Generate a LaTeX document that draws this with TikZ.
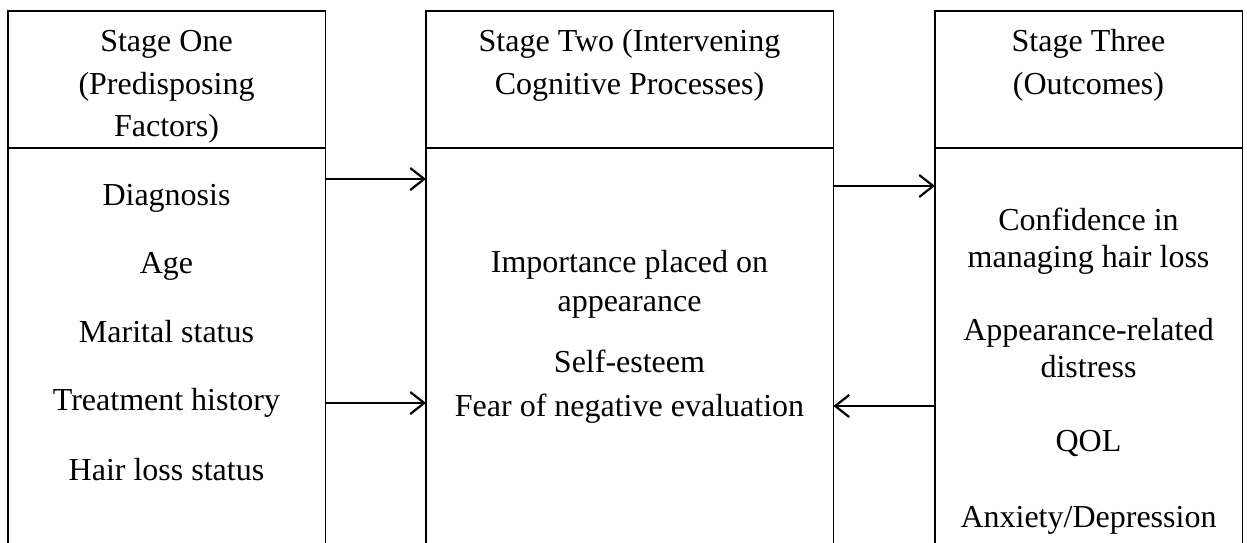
\documentclass[tikz,border=0pt]{standalone}
\usepackage{fontspec}
\setmainfont{Liberation Serif}
\usetikzlibrary{arrows.meta}
\begin{document}
\begin{tikzpicture}[x=1pt,y=-1pt,
  frame/.style={draw=none, inner sep=0pt, anchor=north west},
  edge/.style={line width=1.3pt, black},
  divider/.style={line width=2pt, black},
  txt/.style={anchor=base, inner sep=0pt, font=\fontsize{32}{39}\selectfont},
  flow/.style={line width=2.2pt, -{Straight Barb[length=14pt, width=22pt, line width=2.2pt]}}
]
\useasboundingbox (0,0) rectangle (1247,543);

% three stage columns, open at the bottom
\node[frame, minimum width=317pt, minimum height=540pt] (s1) at (8,11) {};
\node[frame, minimum width=407pt, minimum height=540pt] (s2) at (426,11) {};
\node[frame, minimum width=307pt, minimum height=540pt] (s3) at (935,11) {};

\foreach \s in {s1,s2,s3}{
  \draw[edge] (\s.south west) -- (\s.north west) -- (\s.north east) -- (\s.south east);
  \draw[divider] (\s.west |- 0,148) -- (\s.east |- 0,148);
}

% Stage One
\node[txt] (h1a) at (166.5,52) {Stage One};
\node[txt] (h1b) at (166.5,94) {(Predisposing};
\node[txt] (h1c) at (166.5,136) {Factors)};
\node[txt] (p1) at (166.5,205) {Diagnosis};
\node[txt] (p2) at (166.5,273) {Age};
\node[txt] (p3) at (166.5,342) {Marital status};
\node[txt] (p4) at (166.5,410) {Treatment history};
\node[txt] (p5) at (166.5,480) {Hair loss status};

% Stage Two
\node[txt] (h2a) at (629.5,52) {Stage Two (Intervening};
\node[txt] (h2b) at (629.5,94) {Cognitive Processes)};
\node[txt] (c1a) at (629.5,272) {Importance placed on};
\node[txt] (c1b) at (629.5,311) {appearance};
\node[txt] (c2) at (629.5,372) {Self-esteem};
\node[txt] (c3) at (629.5,416) {Fear of negative evaluation};

% Stage Three
\node[txt] (h3a) at (1088.5,52) {Stage Three};
\node[txt] (h3b) at (1088.5,94) {(Outcomes)};
\node[txt] (o1a) at (1088.5,230) {Confidence in};
\node[txt] (o1b) at (1088.5,267) {managing hair loss};
\node[txt] (o2a) at (1088.5,340) {Appearance-related};
\node[txt] (o2b) at (1088.5,377) {distress};
\node[txt] (o3) at (1088.5,451) {QOL};
\node[txt] (o4) at (1088.5,527) {Anxiety/Depression};

% links between the stages
\draw[flow] (s1.east |- 0,179) -- (s2.west |- 0,179);
\draw[flow] (s1.east |- 0,403) -- (s2.west |- 0,403);
\draw[flow] (s2.east |- 0,186) -- (s3.west |- 0,186);
\draw[flow] (s3.west |- 0,406) -- (s2.east |- 0,406);
\end{tikzpicture}
\end{document}
